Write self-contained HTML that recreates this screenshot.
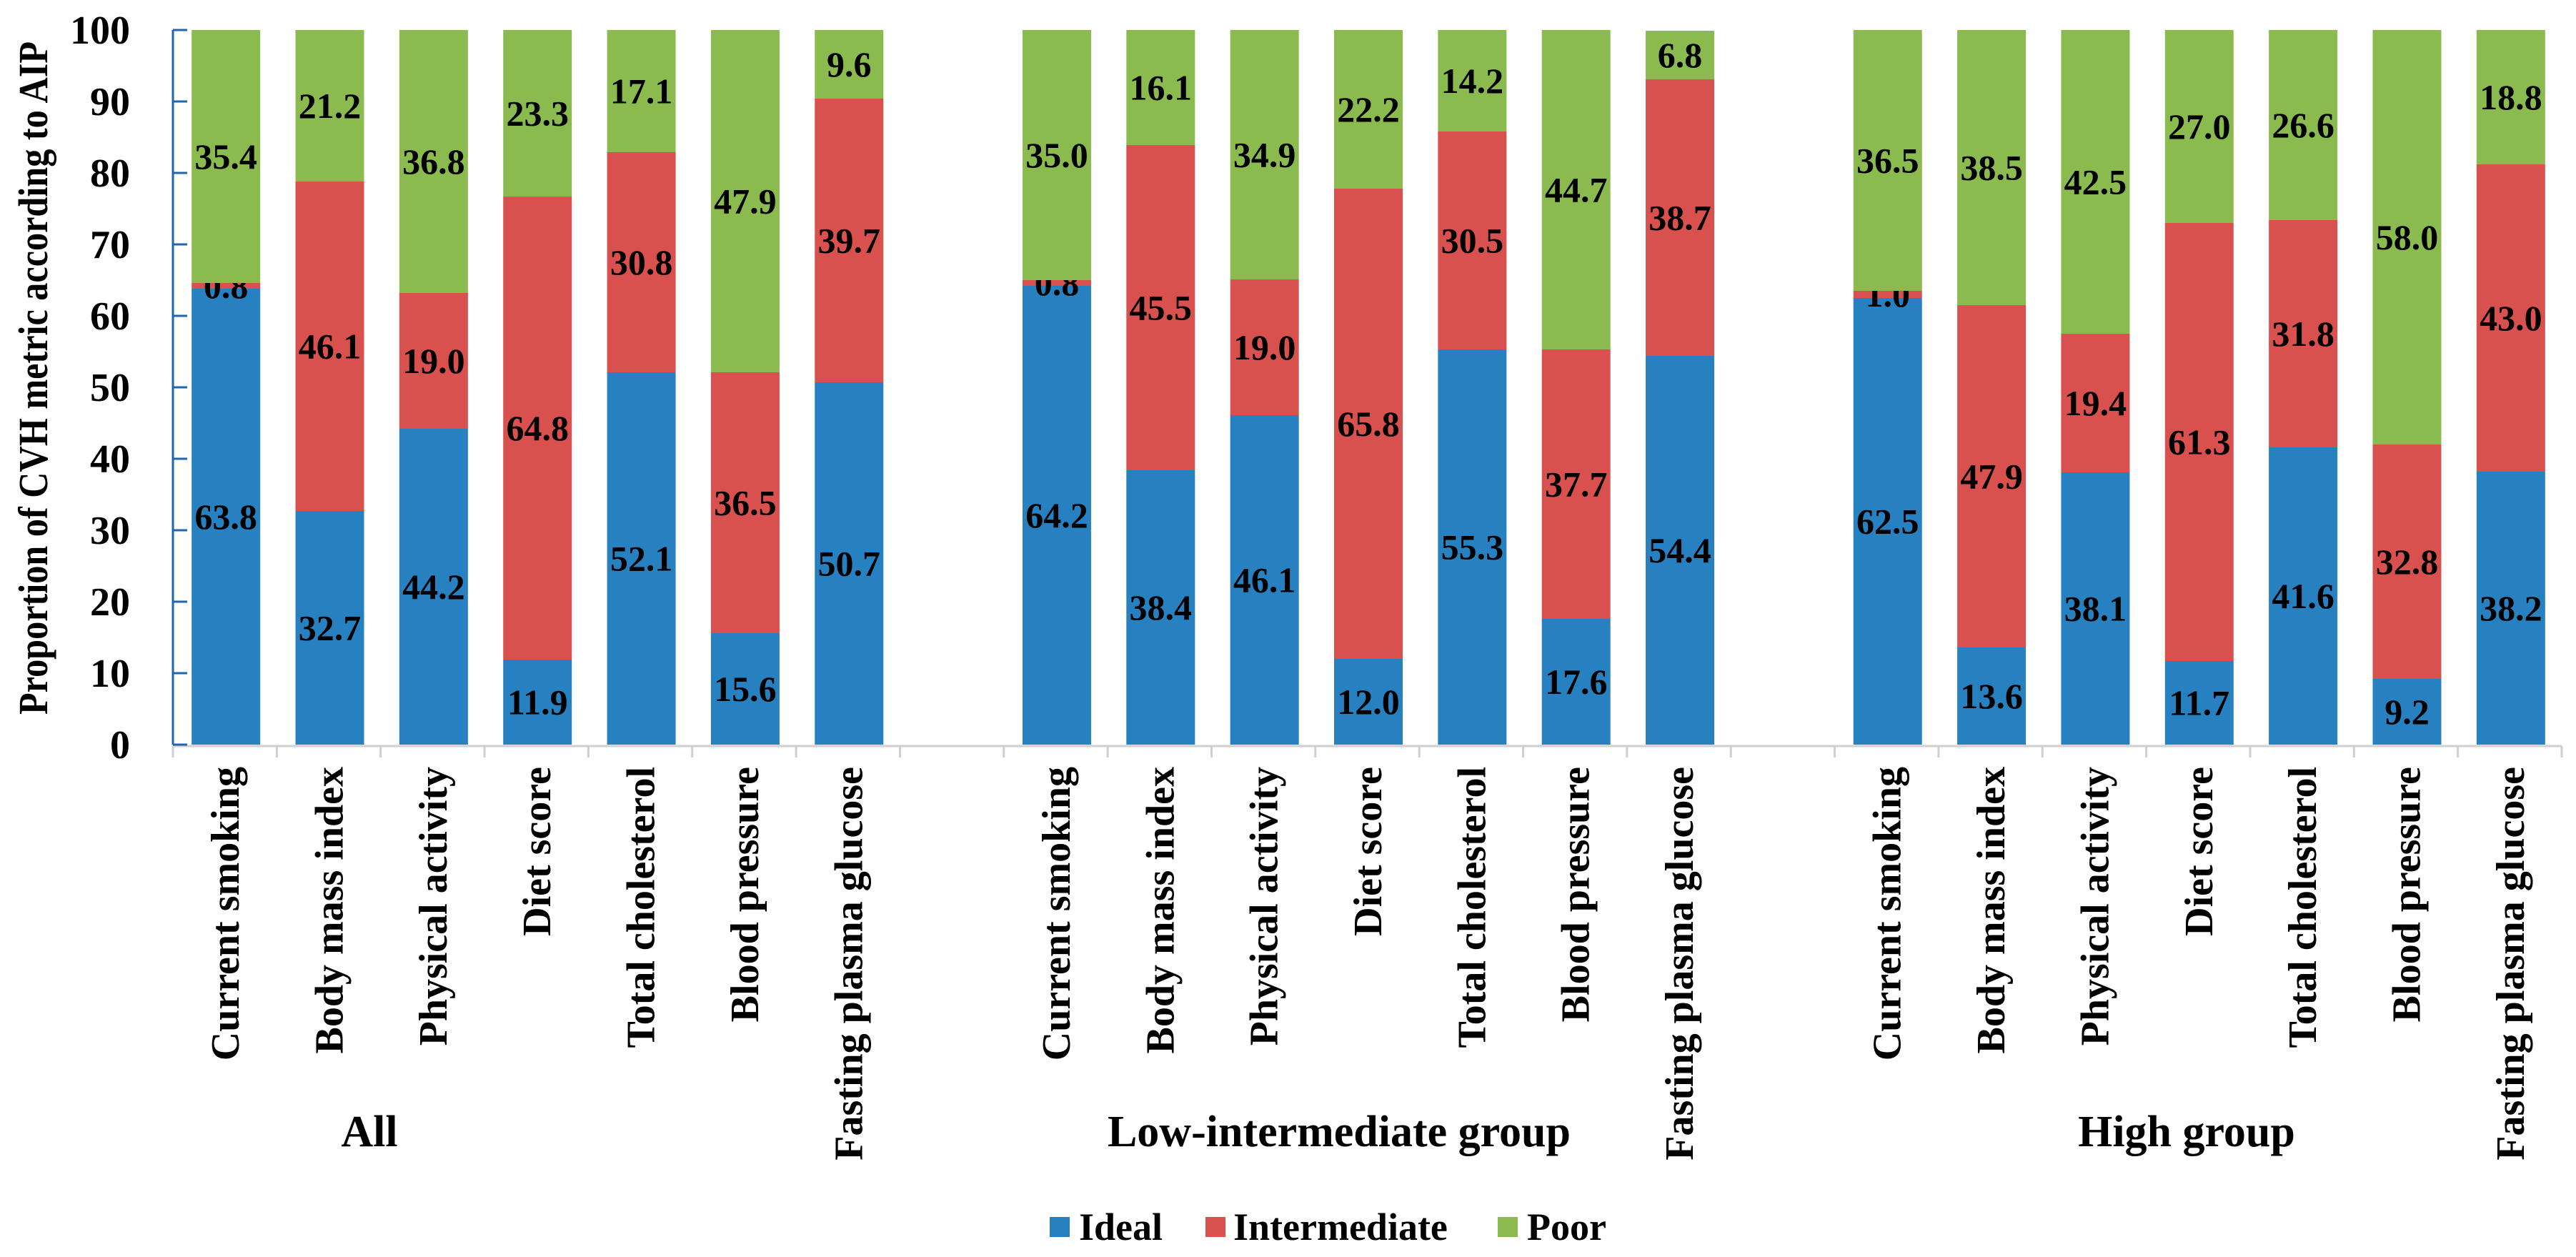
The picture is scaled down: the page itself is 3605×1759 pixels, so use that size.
<!DOCTYPE html>
<html><head><meta charset="utf-8">
<style>
html,body{margin:0;padding:0;background:#fff;}
svg{display:block;}
svg text{font-family:"Liberation Serif","DejaVu Serif","Times New Roman",serif;font-weight:bold;}
</style></head>
<body>
<svg id="chart" width="3605" height="1759" viewBox="0 0 3605 1759" xmlns="http://www.w3.org/2000/svg">
<text font-family="Liberation Serif, serif" transform="translate(66,529) rotate(-90)" text-anchor="middle" font-size="58" textLength="942" lengthAdjust="spacingAndGlyphs">Proportion of CVH metric according to AIP</text>
<g id="legend">
<rect x="1469" y="1703" width="28" height="28" fill="#2780BF"/>
<text font-family="Liberation Serif, serif" x="1510" y="1735" font-size="54">Ideal</text>
<rect x="1687" y="1703" width="28" height="28" fill="#D9514E"/>
<text font-family="Liberation Serif, serif" x="1726" y="1735" font-size="54">Intermediate</text>
<rect x="2096" y="1703" width="28" height="28" fill="#8BBB4F"/>
<text font-family="Liberation Serif, serif" x="2137" y="1735" font-size="54">Poor</text>
</g>
</svg>
<script>
const metrics = ["Current smoking","Body mass index","Physical activity","Diet score","Total cholesterol","Blood pressure","Fasting plasma glucose"];
const groups = ["All","Low-intermediate group","High group"];
const idealAll = [63.8,32.7,44.2,11.9,52.1,15.6,50.7];
const interAll = [0.8,46.1,19.0,64.8,30.8,36.5,39.7];
const poorAll = [35.4,21.2,36.8,23.3,17.1,47.9,9.6];
const idealLow = [64.2,38.4,46.1,12.0,55.3,17.6,54.4];
const interLow = [0.8,45.5,19.0,65.8,30.5,37.7,38.7];
const poorLow = [35.0,16.1,34.9,22.2,14.2,44.7,6.8];
const idealHigh = [62.5,13.6,38.1,11.7,41.6,9.2,38.2];
const interHigh = [1.0,47.9,19.4,61.3,31.8,32.8,43.0];
const poorHigh = [36.5,38.5,42.5,27.0,26.6,58.0,18.8];
const yTicks = [0,10,20,30,40,50,60,70,80,90,100];

const svg = document.getElementById('chart');
const NS = 'http://www.w3.org/2000/svg';
const X0 = 242, X1 = 3585, Y0 = 1042, Y1 = 42, NSLOT = 23;
const slotW = (X1 - X0) / NSLOT;
const y = v => Y0 - (v / 100) * (Y0 - Y1);
const slotX = i => X0 + i * slotW;
const colors = ["#2780BF","#D9514E","#8BBB4F"];
const seriesNames = ["ideal","intermediate","poor"];
const data = [[idealAll,interAll,poorAll],[idealLow,interLow,poorLow],[idealHigh,interHigh,poorHigh]];
const groupCenters = [517,1874,3060];

function mk(tag, attrs){ const e = document.createElementNS(NS, tag); for (const k in attrs) e.setAttribute(k, attrs[k]); if (tag === 'text') e.setAttribute('font-family', 'Liberation Serif, DejaVu Serif, serif'); svg.insertBefore(e, svg.querySelector('#legend')); return e; }

let xl = mk('line',{x1:X0,y1:Y0+2,x2:X1,y2:Y0+2,stroke:'#cfcfcf','stroke-width':3});


for (let i = 0; i <= NSLOT; i++) {
  const t = mk('line',{x1:slotX(i),y1:Y0+2,x2:slotX(i),y2:Y0+18,stroke:'#cfcfcf','stroke-width':3});
  
  
}

data.forEach((g, gi) => {
  metrics.forEach((m, mi) => {
    const slot = gi * 8 + mi;
    const cx = slotX(slot) + slotW / 2 + 1.5;
    const bw = 96;
    let cum = 0;
    g.forEach((series, si) => {
      const v = series[mi];
      const r = mk('rect',{x:cx-bw/2,y:y(cum+v),width:bw,height:y(cum)-y(cum+v),fill:colors[si]});
      
      
      const lbl = mk('text',{x:cx,y:y(cum+v/2)+17,'text-anchor':'middle','font-size':50,fill:'#000'});
      lbl.textContent = v.toFixed(1);
      
      
      cum += v;
    });
    const cl = mk('text',{transform:'translate('+(cx+18)+',1073) rotate(-90)','text-anchor':'end','font-size':56});
    cl.textContent = m;
    
    
  });
  const gl = mk('text',{x:groupCenters[gi],y:1604,'text-anchor':'middle','font-size':62});
  gl.textContent = groups[gi];
  
  
});

const yl = mk('line',{x1:X0,y1:Y1,x2:X0,y2:Y0,stroke:'#2166AC','stroke-width':3});


yTicks.forEach(v => {
  const t = mk('line',{x1:X0,y1:y(v),x2:X0+20,y2:y(v),stroke:'#2166AC','stroke-width':3});
  
  
  const tl = mk('text',{x:182,y:y(v)+19,'text-anchor':'end','font-size':56});
  tl.textContent = v;
  
  
});
</script>
</body></html>
